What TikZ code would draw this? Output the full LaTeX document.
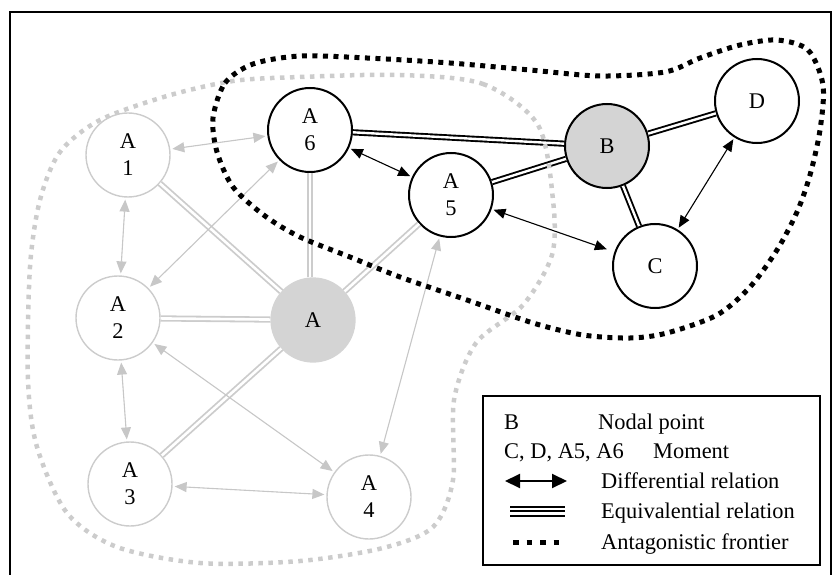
\documentclass[tikz,border=0pt]{standalone}
\usepackage{fontspec}
\setmainfont{Liberation Serif}
\usetikzlibrary{arrows.meta}
\definecolor{lgray}{gray}{0.80}
\definecolor{fgray}{gray}{0.83}
\definecolor{dgray}{gray}{0.78}
\begin{document}
\begin{tikzpicture}[x=1bp,y=-1bp,
  every node/.style={font=\fontsize{22.5}{27}\selectfont},
  mom/.style={circle, draw=black, line width=2bp, minimum size=84bp, inner sep=0pt, align=center, fill=white},
  pale/.style={circle, draw=lgray, line width=1.4bp, minimum size=84bp, inner sep=0pt, align=center, fill=white},
  hubb/.style={mom, fill=fgray},
  hubg/.style={circle, draw=fgray, line width=1.3bp, minimum size=84bp, inner sep=0pt, fill=fgray},
  eqb/.style={draw=black, line width=1.9bp, double=white, double distance=2.4bp},
  eqg/.style={draw=lgray, line width=1.8bp, double=white, double distance=2.6bp},
  difb/.style={{Triangle[length=12bp,width=10bp]}-{Triangle[length=12bp,width=10bp]}, draw=black, line width=1.1bp, shorten <=2bp, shorten >=2bp},
  difg/.style={{Triangle[length=12bp,width=10bp]}-{Triangle[length=12bp,width=10bp]}, draw=dgray, fill=dgray, line width=1.1bp, shorten <=2bp, shorten >=2bp},
  frontb/.style={draw=black, line width=5bp, dash pattern=on 5bp off 5.5bp},
  frontg/.style={draw=lgray, line width=4.5bp, dash pattern=on 4.5bp off 5.5bp},
  legtxt/.style={anchor=base west, inner sep=0pt}
]
\useasboundingbox (0,0) rectangle (833,575);
% outer frame
\draw[line width=2bp] (10,576) -- (10,12) -- (831,12) -- (831,576);

% nodes
\node[pale] (A1) at (128,155) {A\\1};
\node[pale] (A2) at (118,318) {A\\2};
\node[pale] (A3) at (130,484) {A\\3};
\node[pale] (A4) at (369,497) {A\\4};
\node[hubg] (A) at (313,320) {A};
\node[mom] (A6) at (310,130) {A\\6};
\node[mom] (A5) at (451,195) {A\\5};
\node[hubb] (B) at (607,146) {B};
\node[mom] (D) at (757,101) {D};
\node[mom] (C) at (655,266) {C};

% equivalential relations (gray)
\draw[eqg] (A) -- (A1);
\draw[eqg] (A) -- (A2);
\draw[eqg] (A) -- (A3);
\draw[eqg] (A) -- (A5);
\draw[eqg] (A.north -| A6.south) -- (A6.south);
% differential relations (gray)
\draw[difg] (A1) -- (A6);
\draw[difg] (A1) -- (A2);
\draw[difg] (A2) -- (A6);
\draw[difg] (A2) -- (A3);
\draw[difg] (A2) -- (A4);
\draw[difg] (A3) -- (A4);
\draw[difg] (A5) -- (A4);

% equivalential relations (black)
\draw[eqb] (A6) -- (B);
\draw[eqb] (A5) -- (B);
\draw[eqb] (B) -- (D);
\draw[eqb] (B) -- (C);
% differential relations (black)
\draw[difb] (A6) -- (A5);
\draw[difb, shorten >=8bp] (A5) -- (C);
\draw[difb] (D) -- (C);

% antagonistic frontiers
\draw[frontg] plot[smooth cycle, tension=0.5] coordinates {
  (400,75) (483,84) (538,125) (553,200) (552,255) (523,305) (476,343)
  (454,400) (453,480) (433,527) (383,548) (300,561) (200,563) (117,547)
  (67,513) (37,447) (28,380) (30,267) (40,200) (60,152) (100,120)
  (167,96) (233,81) (300,77)};
\draw[frontb] plot[smooth cycle, tension=0.5] coordinates {
  (213,118) (225,83) (253,64) (300,56) (367,58) (450,63) (530,70)
  (600,76) (665,72) (700,58) (740,45) (777,40) (808,50) (823,85)
  (820,130) (810,175) (797,212) (777,250) (750,287) (717,315)
  (667,333) (630,338) (583,335) (533,323) (467,300) (400,277)
  (350,257) (300,237) (265,216) (233,187) (217,152)};

% legend
\node[draw=black, line width=2bp, fill=white, minimum width=337bp, minimum height=169bp, inner sep=0pt] (leg) at (651.5,480.5) {};
\node[legtxt] (l1a) at (504,429) {B};
\node[legtxt] (l1b) at (598,429) {Nodal point};
\node[legtxt] (l2a) at (504,458) {C, D, A5, A6};
\node[legtxt] (l2b) at (653,458) {Moment};
\coordinate (d1) at (505,481);
\coordinate (d2) at (567,481);
\draw[{Triangle[length=15bp,width=14bp]}-{Triangle[length=15bp,width=14bp]}, line width=2bp] (d1) -- (d2);
\node[legtxt] (l3) at (601,488) {Differential relation};
\coordinate (e1) at (510,511);
\coordinate (e2) at (565,511);
\draw[line width=2bp] ([yshift=-4.5bp]e1) -- ([yshift=-4.5bp]e2);
\draw[line width=2bp] (e1) -- (e2);
\draw[line width=2bp] ([yshift=4.5bp]e1) -- ([yshift=4.5bp]e2);
\node[legtxt] (l4) at (601,518) {Equivalential relation};
\coordinate (f1) at (513,542);
\coordinate (f2) at (562,542);
\draw[line width=5bp, dash pattern=on 5.5bp off 8bp] (f1) -- (f2);
\node[legtxt] (l5) at (601,549) {Antagonistic frontier};
\end{tikzpicture}
\end{document}
